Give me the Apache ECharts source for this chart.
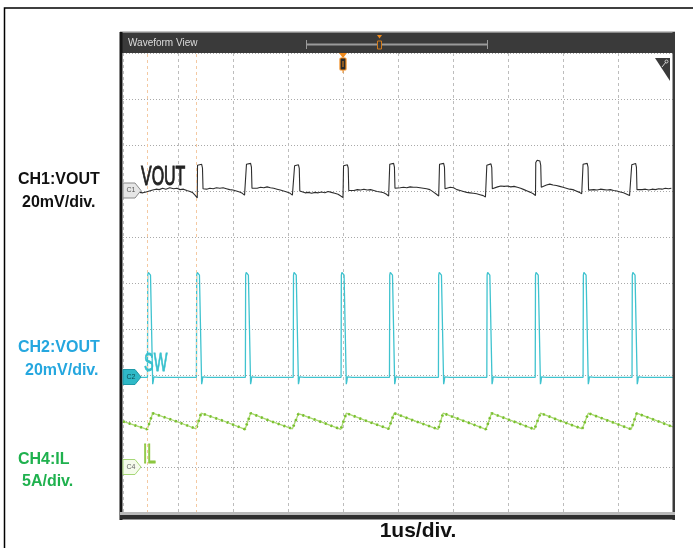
<!DOCTYPE html>
<html><head><meta charset="utf-8">
<script src="https://cdn.jsdelivr.net/npm/echarts@6/dist/echarts.min.js"></script>
<style>html,body{margin:0;padding:0;background:#fff;}#c{width:693px;height:548px;}</style>
</head><body><div id="c"></div>
<script>
// time axis: 0..10 us (1 us/div), vertical axis: 0..10 divisions
const xDivs = 10;
const yDivs = 10;
const cursorTimes = [0.44, 1.345];

// CH1 VOUT trace [time us, divisions]
const voutData = [
[0.30,6.97],[0.36,6.96],[0.42,6.98],[0.48,7.00],[0.54,7.02],
[0.60,7.04],[0.66,7.03],[0.72,7.06],[0.78,7.04],[0.85,7.07],[0.92,7.05],[0.98,7.06],[1.04,7.03],[1.10,7.04],[1.16,7.01],[1.22,6.99],[1.27,6.96],[1.31,6.91],[1.34,6.87],[1.35,6.85],
[1.355,7.56],[1.38,7.59],[1.43,7.58],[1.445,7.50],[1.455,7.05],
[1.48,7.02],[1.52,7.04],[1.58,7.06],[1.64,7.05],[1.70,7.07],[1.76,7.06],[1.82,7.07],[1.88,7.05],[1.94,7.03],[2.00,7.02],[2.06,7.00],[2.12,6.98],[2.17,6.95],[2.21,6.91],[2.24,6.88],
[2.245,7.58],[2.27,7.62],[2.32,7.60],[2.335,7.52],[2.345,7.06],
[2.38,7.04],[2.44,7.06],[2.50,7.08],[2.56,7.07],[2.62,7.09],[2.68,7.07],[2.74,7.06],[2.80,7.04],[2.86,7.02],[2.92,7.00],[2.98,6.98],[3.04,6.95],[3.08,6.91],[3.11,6.88],
[3.12,7.55],[3.14,7.58],[3.19,7.57],[3.205,7.49],[3.215,7.00],
[3.25,6.97],[3.31,6.96],[3.37,6.97],[3.43,6.95],[3.49,6.97],[3.55,6.96],[3.61,6.98],[3.67,6.96],[3.73,6.99],[3.79,6.97],[3.85,6.95],[3.91,6.93],[3.96,6.89],[4.00,6.86],
[4.01,7.55],[4.03,7.58],[4.08,7.57],[4.095,7.50],[4.105,7.01],
[4.14,6.99],[4.20,7.01],[4.26,7.03],[4.32,7.02],[4.38,7.04],[4.44,7.02],[4.50,7.03],[4.56,7.01],[4.62,6.99],[4.68,6.98],[4.74,6.96],[4.79,6.93],[4.83,6.89],[4.845,6.87],
[4.85,7.58],[4.87,7.62],[4.92,7.60],[4.935,7.52],[4.945,7.06],
[4.98,7.05],[5.04,7.07],[5.10,7.08],[5.16,7.07],[5.22,7.09],[5.28,7.08],[5.34,7.08],[5.40,7.07],[5.46,7.06],[5.52,7.05],[5.58,7.03],[5.64,6.98],[5.70,6.93],[5.74,6.89],[5.75,6.88],
[5.755,7.58],[5.78,7.62],[5.83,7.60],[5.845,7.52],[5.855,7.05],
[5.89,7.06],[5.95,7.08],[6.01,7.07],[6.07,7.03],[6.13,7.01],[6.19,6.99],[6.25,6.97],[6.31,6.96],[6.37,6.95],[6.43,6.94],[6.49,6.92],[6.55,6.90],[6.59,6.87],[6.61,6.86],
[6.615,7.56],[6.64,7.60],[6.69,7.59],[6.705,7.51],[6.715,7.05],
[6.75,7.06],[6.81,7.09],[6.87,7.11],[6.93,7.10],[6.99,7.11],[7.05,7.09],[7.11,7.10],[7.17,7.08],[7.23,7.06],[7.29,7.03],[7.35,7.00],[7.41,6.97],[7.46,6.94],[7.49,6.91],[7.50,6.90],
[7.505,7.62],[7.53,7.67],[7.58,7.65],[7.595,7.56],[7.605,7.08],
[7.64,7.10],[7.70,7.13],[7.76,7.15],[7.82,7.13],[7.88,7.12],[7.94,7.10],[8.00,7.08],[8.06,7.06],[8.12,7.04],[8.18,7.03],[8.24,7.00],[8.30,6.97],[8.34,6.94],[8.36,6.92],
[8.365,7.58],[8.39,7.61],[8.44,7.60],[8.455,7.52],[8.465,7.02],
[8.50,7.01],[8.56,7.03],[8.62,7.02],[8.68,7.04],[8.74,7.03],[8.80,7.02],[8.86,7.03],[8.92,7.01],[8.98,7.00],[9.04,6.98],[9.10,6.96],[9.16,6.93],[9.21,6.90],[9.245,6.87],
[9.25,7.57],[9.27,7.61],[9.32,7.60],[9.335,7.52],[9.345,7.03],
[9.38,7.01],[9.44,7.03],[9.50,7.04],[9.56,7.02],[9.62,7.04],[9.68,7.03],[9.74,7.05],[9.80,7.04],[9.86,7.06],[9.92,7.05],[9.97,7.06]
];

// CH2 SW trace
const swData = [
[0,2.95],[0.445,2.95],[0.45,5.17],[0.46,5.23],[0.48,5.19],[0.50,5.17],[0.535,5.17],[0.54,2.80],[0.55,2.86],[0.56,2.96],[0.59,2.93],[0.65,2.95],[0.95,2.95],
[1.335,2.95],[1.34,5.17],[1.35,5.23],[1.37,5.19],[1.39,5.17],[1.425,5.17],[1.43,2.80],[1.44,2.86],[1.45,2.96],[1.48,2.93],[1.54,2.95],[1.84,2.95],
[2.225,2.95],[2.23,5.17],[2.24,5.23],[2.26,5.19],[2.28,5.17],[2.315,5.17],[2.32,2.80],[2.33,2.86],[2.34,2.96],[2.37,2.93],[2.43,2.95],[2.70,2.95],
[3.095,2.95],[3.10,5.17],[3.11,5.23],[3.13,5.19],[3.15,5.17],[3.185,5.17],[3.19,2.80],[3.20,2.86],[3.21,2.96],[3.24,2.93],[3.30,2.95],[3.60,2.95],
[3.965,2.95],[3.97,5.17],[3.98,5.23],[4.00,5.19],[4.02,5.17],[4.055,5.17],[4.06,2.80],[4.07,2.86],[4.08,2.96],[4.11,2.93],[4.17,2.95],[4.45,2.95],
[4.845,2.95],[4.85,5.17],[4.86,5.23],[4.88,5.19],[4.90,5.17],[4.935,5.17],[4.94,2.80],[4.95,2.86],[4.96,2.96],[4.99,2.93],[5.05,2.95],[5.35,2.95],
[5.735,2.95],[5.74,5.17],[5.75,5.23],[5.77,5.19],[5.79,5.17],[5.825,5.17],[5.83,2.80],[5.84,2.86],[5.85,2.96],[5.88,2.93],[5.94,2.95],[6.20,2.95],
[6.615,2.95],[6.62,5.17],[6.63,5.23],[6.65,5.19],[6.67,5.17],[6.705,5.17],[6.71,2.80],[6.72,2.86],[6.73,2.96],[6.76,2.93],[6.82,2.95],[7.10,2.95],
[7.495,2.95],[7.50,5.17],[7.51,5.23],[7.53,5.19],[7.55,5.17],[7.585,5.17],[7.59,2.80],[7.60,2.86],[7.61,2.96],[7.64,2.93],[7.70,2.95],[7.95,2.95],
[8.365,2.95],[8.37,5.17],[8.38,5.23],[8.40,5.19],[8.42,5.17],[8.455,5.17],[8.46,2.80],[8.47,2.86],[8.48,2.96],[8.51,2.93],[8.57,2.95],[8.85,2.95],
[9.255,2.95],[9.26,5.17],[9.27,5.23],[9.29,5.19],[9.31,5.17],[9.345,5.17],[9.35,2.80],[9.36,2.86],[9.37,2.96],[9.40,2.93],[9.46,2.95],[9.75,2.95],[10,2.95]
];

// CH4 IL trace
const ilData = [
[0,1.99],[0.44,1.82],[0.54,2.17],[0.95,2.00],[1.33,1.83],[1.42,2.17],[1.83,2.00],[2.22,1.82],[2.32,2.17],[2.70,1.99],
[3.08,1.83],[3.19,2.16],[3.58,1.99],[3.96,1.82],[4.06,2.17],[4.45,1.99],[4.83,1.83],[4.93,2.17],[5.33,1.99],
[5.73,1.82],[5.82,2.17],[6.22,1.99],[6.60,1.82],[6.70,2.17],[7.10,1.99],[7.48,1.82],[7.59,2.17],[7.98,1.99],
[8.35,1.83],[8.46,2.17],[8.86,1.99],[9.24,1.82],[9.34,2.17],[10,1.87]
];

const traceNames = ['VOUT', 'SW', 'IL'];
const channelTags = ['C1', 'C2', 'C4'];
const leftTitles = ['CH1:VOUT', 'CH2:VOUT', 'CH4:IL'];
const leftScales = ['20mV/div.', '20mV/div.', '5A/div.'];
const timeScale = '1us/div.';
const windowTitle = 'Waveform View';

const chart = echarts.init(document.getElementById('c'), null, {renderer: 'canvas'});

const G = {left: 123, top: 53, width: 550, height: 460};

function pent(y, fill, stroke, tag, tagColor) {
  return [
    {type: 'polygon', z: 120, shape: {points: [[123, y - 7.5], [135, y - 7.5], [141, y], [135, y + 7.5], [123, y + 7.5]]},
     style: {fill: fill, stroke: stroke, lineWidth: 1}},
    {type: 'text', z: 121, x: 131, y: y, style: {text: tag, font: '7px "Liberation Sans"', fill: tagColor, align: 'center', verticalAlign: 'middle'}}
  ];
}

const graphics = [
  // outer page border
  {type: 'rect', z: 100, shape: {x: 4.5, y: 8, width: 700, height: 600}, style: {fill: 'none', stroke: '#000', lineWidth: 1.5}},
  // scope frame
  {type: 'rect', z: 100, shape: {x: 120, y: 32, width: 555, height: 21}, style: {fill: '#3a3a3a'}},
  {type: 'rect', z: 100, shape: {x: 120, y: 31.5, width: 555, height: 1.5}, style: {fill: '#8a8a8a'}},
  {type: 'rect', z: 100, shape: {x: 119.5, y: 32, width: 3, height: 488}, style: {fill: '#151515'}},
  {type: 'rect', z: 100, shape: {x: 672.5, y: 32, width: 2.5, height: 488}, style: {fill: '#3a3a3a'}},
  {type: 'rect', z: 100, shape: {x: 120, y: 512, width: 555, height: 3}, style: {fill: '#b9b9b9'}},
  {type: 'rect', z: 100, shape: {x: 120, y: 515, width: 555, height: 4.5}, style: {fill: '#2e2e2e'}},
  {type: 'text', z: 101, x: 128, y: 43.5, style: {text: windowTitle, font: '10px "Liberation Sans Narrow", "Liberation Sans"', fill: '#dcdcdc', verticalAlign: 'middle'}},
  // slider in title bar
  {type: 'line', z: 101, shape: {x1: 306, y1: 44.5, x2: 488, y2: 44.5}, style: {stroke: '#9a9a9a', lineWidth: 2}},
  {type: 'line', z: 101, shape: {x1: 306.5, y1: 40, x2: 306.5, y2: 49}, style: {stroke: '#9a9a9a', lineWidth: 1}},
  {type: 'line', z: 101, shape: {x1: 487.5, y1: 40, x2: 487.5, y2: 49}, style: {stroke: '#9a9a9a', lineWidth: 1}},
  {type: 'polygon', z: 102, shape: {points: [[377, 35], [382, 35], [379.5, 38.5]]}, style: {fill: '#f08a1c'}},
  {type: 'rect', z: 102, shape: {x: 377.5, y: 41, width: 4, height: 8}, style: {fill: '#3a3a3a', stroke: '#d27a1a', lineWidth: 1}},
  // trigger marker
  {type: 'polygon', z: 102, shape: {points: [[339, 53], [347, 53], [343, 58]]}, style: {fill: '#f08a1c'}},
  {type: 'rect', z: 102, shape: {x: 340, y: 58, width: 6, height: 12, r: 1}, style: {fill: '#2a2a2a', stroke: '#f08a1c', lineWidth: 1.2}},
  {type: 'line', z: 103, shape: {x1: 343, y1: 61, x2: 343, y2: 67}, style: {stroke: '#f08a1c', lineWidth: 1}},
  {type: 'line', z: 102, shape: {x1: 343, y1: 70, x2: 343, y2: 73}, style: {stroke: '#f08a1c', lineWidth: 1}},
  // corner triangle
  {type: 'polygon', z: 102, shape: {points: [[655, 58], [670, 58], [670, 81]]}, style: {fill: '#3a3a3a'}},
  {type: 'line', z: 103, shape: {x1: 662, y1: 67, x2: 666, y2: 62}, style: {stroke: '#cfcfcf', lineWidth: 1}},
  {type: 'circle', z: 103, shape: {cx: 666.5, cy: 61.5, r: 1.5}, style: {fill: 'none', stroke: '#cfcfcf', lineWidth: 1}},
  // channel markers
  ...pent(190.5, '#e6e6e6', '#8a8a8a', channelTags[0], '#555'),
  ...pent(377, '#2fb9c7', '#1f9aa8', channelTags[1], '#0d4a52'),
  ...pent(467, '#f5fbec', '#a6d777', channelTags[2], '#666'),
  // trace names
  {type: 'text', z: 110, x: 141, y: 177, scaleX: 0.57, style: {text: traceNames[0], font: '28px "Liberation Sans"', fill: '#222', stroke: '#222', lineWidth: 1, verticalAlign: 'middle'}},
  {type: 'text', z: 110, x: 144, y: 364, scaleX: 0.58, style: {text: traceNames[1], font: '25px "Liberation Sans"', fill: '#37c0cd', stroke: '#37c0cd', lineWidth: 0.8, verticalAlign: 'middle'}},
  {type: 'text', z: 110, x: 143, y: 455, scaleX: 0.55, style: {text: traceNames[2], font: '28px "Liberation Sans"', fill: '#8cc63f', stroke: '#8cc63f', lineWidth: 0.8, verticalAlign: 'middle'}},
  // left labels
  {type: 'text', z: 110, x: 18, y: 180, style: {text: leftTitles[0], font: 'bold 16px "Liberation Sans"', fill: '#111', verticalAlign: 'middle'}},
  {type: 'text', z: 110, x: 22, y: 203, style: {text: leftScales[0], font: 'bold 16px "Liberation Sans"', fill: '#111', verticalAlign: 'middle'}},
  {type: 'text', z: 110, x: 18, y: 348, style: {text: leftTitles[1], font: 'bold 16px "Liberation Sans"', fill: '#25a7df', verticalAlign: 'middle'}},
  {type: 'text', z: 110, x: 25, y: 371, style: {text: leftScales[1], font: 'bold 16px "Liberation Sans"', fill: '#25a7df', verticalAlign: 'middle'}},
  {type: 'text', z: 110, x: 18, y: 460, style: {text: leftTitles[2], font: 'bold 16px "Liberation Sans"', fill: '#1fb14e', verticalAlign: 'middle'}},
  {type: 'text', z: 110, x: 22, y: 482, style: {text: leftScales[2], font: 'bold 16px "Liberation Sans"', fill: '#1fb14e', verticalAlign: 'middle'}},
  {type: 'text', z: 110, x: 418, y: 531, style: {text: timeScale, font: 'bold 21px "Liberation Sans"', fill: '#111', align: 'center', verticalAlign: 'middle'}}
];

const option = {
  animation: false,
  backgroundColor: '#fff',
  grid: {left: G.left, top: G.top, width: G.width, height: G.height, show: false},
  xAxis: {
    type: 'value', min: 0, max: xDivs, interval: 1,
    axisLine: {show: false}, axisTick: {show: false}, axisLabel: {show: false},
    splitLine: {show: true, lineStyle: {color: '#bdbdbd', type: [3, 3], width: 1}}
  },
  yAxis: {
    type: 'value', min: 0, max: yDivs, interval: 1,
    axisLine: {show: false}, axisTick: {show: false}, axisLabel: {show: false},
    splitLine: {show: true, lineStyle: {color: '#a9a9a9', type: [1, 2], width: 1}}
  },
  series: [
    {type: 'line', data: [], silent: true, z: 1,
     markLine: {silent: true, symbol: 'none', label: {show: false},
       lineStyle: {color: '#f4c9a2', type: [3, 3], width: 1},
       data: cursorTimes.map(t => ({xAxis: t}))}},
    {name: traceNames[2], type: 'line', data: ilData, showSymbol: false, silent: true, z: 3,
     lineStyle: {color: '#a9d86e', width: 1.3}},
    {name: traceNames[2] + '-dots', type: 'line', data: ilData, showSymbol: false, silent: true, z: 4,
     lineStyle: {color: '#78bf2f', width: 2.6, type: [2, 4]}},
    {name: traceNames[1], type: 'line', data: swData, showSymbol: false, silent: true, z: 3,
     lineStyle: {color: '#3fc3cf', width: 1.3}},
    {name: traceNames[0], type: 'line', data: voutData, showSymbol: false, silent: true, z: 3,
     lineStyle: {color: '#2e2e2e', width: 1.1}}
  ],
  graphic: graphics
};
chart.setOption(option);
</script>
</body></html>
